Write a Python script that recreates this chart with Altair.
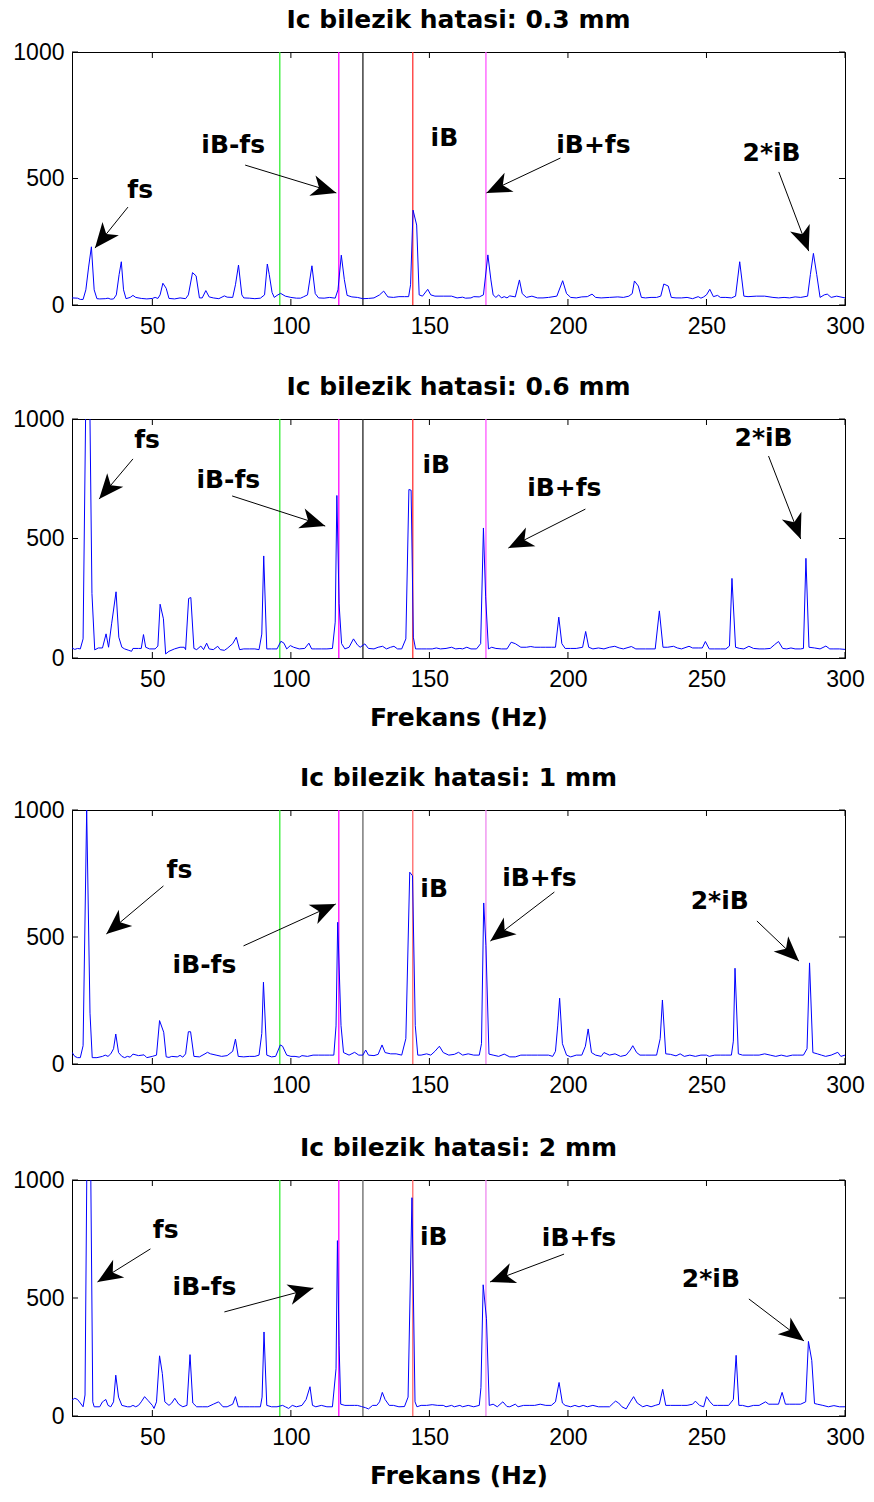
import math
import altair as alt
import pandas as pd

# ---------------- data ----------------
panel_titles = ["Ic bilezik hatasi: 0.3 mm", "Ic bilezik hatasi: 0.6 mm",
                "Ic bilezik hatasi: 1 mm", "Ic bilezik hatasi: 2 mm"]

f_03 = [21,23,24,25,26,27,28,29,30,31,33,34,35,36,37,38,38.8,39.6,40.5,42,43,44,46,48,50,51,52,52.8,53.8,55,56,58,60,62,63,64.5,65.8,67,68,69.3,70.5,72,74,76,77,79,80,81.1,82.3,83,85,87,89,90.5,91.5,92.2,93.2,94,95,96.3,98,100,102,103.5,104.5,106,107.6,108.8,110,112,114,116,117,118.2,119.3,120.3,122,124,126,128,130,132,133.5,135,137,139,141,142.5,143.2,144.1,145.4,146.3,147.5,149.4,150.5,152,155,158,160,162,163,165,166,168,169.5,171.1,172.2,173,174,175,176,177,178,179,181,182.5,183.5,185,187,189,191,193,196,198.1,199.5,201,203,205,207,208.7,210,212,215,218,220,222,223.2,224,225.4,226.5,228,230,232,233.5,234.6,236.2,237.3,239,241,243,245,247,248,249,250,251.2,252.5,254,255,257,259,260.5,262,263.5,265,268,271,274,276,278,280,282,284,286.5,287.5,288.6,289.8,291,292.5,293.6,295,297,300]
a_03 = [28,27,22,22,60,150,230,60,25,24,25,27,23,24,40,120,171,60,25,30,38,30,26,24,26,30,26,40,86,66,26,24,28,25,40,128,115,28,28,57,32,28,25,36,31,30,80,158,40,28,27,25,27,40,162,120,50,30,38,46,35,30,27,27,32,40,155,45,28,27,30,27,60,197,100,38,32,30,25,26,28,40,55,32,30,33,33,33,80,375,316,40,35,62,40,35,35,35,28,31,27,28,33,32,40,198,99,40,30,40,28,33,28,36,32,99,45,30,35,28,28,30,35,96,45,30,28,32,33,43,30,28,30,32,30,35,45,95,75,30,28,30,30,35,83,75,30,28,28,30,25,33,27,32,40,62,33,38,30,30,28,35,171,35,33,35,35,30,28,30,28,32,30,35,120,204,120,30,40,43,30,35,28]

f_06 = [21,22,23,24,25,26.2,27.2,28.2,29.2,30.5,32,33.3,34.2,35.3,36.9,37.9,39,40,41.5,42.5,43,45,46,46.8,47.6,49,51,52,52.8,54,54.8,56,58,60,61.5,62,63.1,63.9,65,66,67.5,68.5,69.6,70.5,72,73.6,74.5,76,77,79,80.3,81.5,83,85,87,88.5,89.5,90.2,91.3,93,95,96.4,97.5,98.5,99.8,101,103,105,106.5,107.5,109,111,113,115,116,116.6,117.4,118.3,119.5,121,122.6,124,125,126.7,128,130,131.5,133.1,134.5,136,137.2,138.5,140,141.5,142.6,143.4,144.2,145,147,149,151,152.5,154,156,158,159.5,161,162,163.5,165,167,168.5,169.5,170.3,171.3,172.5,174,176,178,179.5,181,183,185,186.6,188,190,192,194,195.5,196.7,197.8,199,201,203,205.3,206.4,207.5,209,211,213,215,216.9,218.5,220,222.9,224.5,226,228,230,231.5,233,234.3,236,238.1,239.5,241,243.7,245,247,248.5,249.6,251,253,255,257,258.3,259.2,260.5,262,263.5,265.3,267,269,271,273,274.5,276,277.5,279,280.5,282,284,285,285.9,287,289,291,293.1,294.5,296,298,300]
a_06 = [42,36,40,38,80,1300,1300,270,34,42,42,101,45,143,277,87,45,38,32,28,40,40,40,98,45,38,38,50,225,164,17,28,38,45,45,35,249,253,40,35,50,35,62,38,35,49,35,32,40,60,87,35,38,38,38,35,100,427,38,38,38,70,62,38,52,45,38,40,62,38,38,38,38,40,150,680,227,60,38,45,80,55,45,59,40,38,45,49,38,45,49,38,38,80,705,702,87,38,38,38,38,42,38,40,45,38,40,38,45,38,38,60,544,256,38,45,40,38,38,66,60,45,45,48,45,45,45,45,45,171,60,40,40,40,45,111,45,38,42,38,45,49,42,38,48,38,38,38,38,38,197,45,45,49,42,38,49,42,42,42,69,38,38,38,38,50,333,45,40,38,49,40,38,38,40,55,69,40,38,42,38,38,40,417,45,42,38,50,38,38,38,36]

f_1 = [21,22,23,24,25,26.3,27.5,28.3,30,32,33,34,35,36,36.8,37.8,39,40,41,42,43,45,47,48,50,51.5,52.6,54.1,55,56,57,59,60,61,62,63,63.8,65,67,69,69.9,71,73,75,77,79,80,81,83,85,87,88.5,89.5,90.1,91.3,93,94.5,96.2,97,98.5,100,101.5,103,104,106,108,110,112,114,115.5,116.3,116.9,118.1,119,121,123,124.5,126,127,128,130,131.5,132.9,134,136,138,140,141.5,142.9,143.9,144.9,145.8,147,149,150.5,152,153.6,155,157,159,160.5,162,164,166,168,168.8,169.6,170.4,171.5,173,175,177,179,181,183,185,187,189,191,193,194.5,195.5,196.3,197,198,199.5,201,203,205,206.3,207.3,208.5,210,212,213,215,217,219,221,222.5,223.4,224.8,226,228,230,232,233.3,234.1,235.3,237,239,240.5,242,244,246,248,250,251,253,255,257,259,259.7,260.3,261.5,263,265,267,269,271,273,275,277,279,281,283,285,286.3,287.2,288.4,290,291.5,293,295,297.4,298.5,300]
a_1 = [46,30,25,25,72,1000,200,25,25,30,35,30,40,60,118,45,30,25,30,27,39,33,36,25,30,35,171,125,28,26,30,28,34,27,40,127,127,30,28,40,46,40,35,30,33,50,98,30,28,30,30,35,120,322,35,28,30,75,70,35,30,30,27,33,30,35,35,35,35,35,150,558,151,45,35,46,35,35,55,35,33,38,75,45,40,40,35,100,755,741,151,35,35,40,35,50,70,45,35,38,46,35,40,35,35,80,634,466,39,35,30,39,28,28,35,35,35,35,35,35,30,50,150,259,80,35,28,35,35,70,138,45,35,30,45,35,40,30,35,55,72,45,35,35,35,35,100,252,40,38,32,40,30,35,30,35,35,30,35,35,35,35,90,377,40,35,35,35,35,40,35,30,35,30,35,35,35,60,398,45,40,35,30,35,46,30,35]

f_2 = [21,22,23,24,25,25.7,26.6,27.5,28.5,29,31,32,32.4,33.2,34,35,36,36.8,37.8,39,41,42,43,44,45,46,47.2,48.5,50,50.6,51.5,52.6,53.6,54.5,56,57,58.1,59.5,61,62.5,63.6,64.6,66,68,70,72,73.9,75.5,77,79,80,81,83,85,87,89,89.6,90.3,91.3,93,95,97,98,99.2,100.5,102,104,105.5,106.9,107.8,109,111,113,115,116.3,116.8,117.4,118,119.5,121,123,124,125.5,127,128,129.5,131,132,133,134,135.5,137,139,141,142.3,143.7,144.8,145.5,147,149,151,153,155,156,158,159,161,162,164,166,168,168.6,169.4,170.6,171.6,173,174.5,176.5,178,179,181,182,184,186,188,190,192,194,195.5,196.8,198,199,201,202.5,204,205.5,207,209,211,213,215,216.4,217.2,218.3,219.5,221,222.5,223.7,225,227,228.5,230,231.5,233,234.2,235.3,237,239,241,243,245,246,247.5,249,250,251.3,252.5,254,256,258,259.7,260.7,261.7,263,265,267,269,271.3,272.5,274,276,277.3,278.5,280,282,284,285.8,286.8,288,289,290,292,294,296,298,300]
a_2 = [68,75,70,55,39,89,1400,1400,60,39,39,60,63,70,45,39,60,173,80,45,39,39,45,39,45,60,82,65,45,32,60,255,180,60,45,55,75,50,39,45,260,55,39,39,39,50,60,39,39,50,82,39,39,39,39,39,80,356,45,39,39,45,39,32,45,39,45,70,124,45,39,45,39,39,200,743,300,50,45,45,45,45,40,35,30,45,45,60,100,70,45,45,39,40,80,925,60,39,45,45,48,45,45,39,45,39,45,39,45,39,45,120,556,412,45,50,39,60,40,39,50,39,45,45,45,50,45,45,60,142,55,45,39,45,39,45,39,45,39,39,39,55,63,55,39,30,60,82,55,39,45,39,45,50,113,45,45,45,45,45,50,63,45,39,82,60,45,45,45,45,70,257,45,45,39,45,45,60,50,50,50,100,50,50,50,50,60,316,236,53,50,45,39,44,39,39]

freq_lists = [f_03, f_06, f_1, f_2]
amp_lists = [a_03, a_06, a_1, a_2]

x_ticks = [50, 100, 150, 200, 250, 300]
y_ticks = [0, 500, 1000]
x_domain = [21, 300]
y_domain = [0, 1000]

marker_freqs = [96, 117.3, 126, 144, 170.4]
marker_colors = [
    ["#33ee33", "#ff00ff", "#222222", "#ff3333", "#ff55ff"],
    ["#33ee33", "#ff00ff", "#222222", "#ff3333", "#ff55ff"],
    ["#33ee33", "#ff00ff", "#666666", "#ff6666", "#ee88ee"],
    ["#33ee33", "#ff00ff", "#666666", "#ff6666", "#ee88ee"],
]

ann_labels = ["fs", "iB-fs", "iB", "iB+fs", "2*iB"]
ann_tx = [[45.6, 79.2, 155.4, 209.2, 273.5],
          [48.1, 77.4, 152.5, 198.7, 270.6],
          [59.8, 68.8, 151.7, 189.7, 254.8],
          [54.8, 68.8, 151.6, 204.0, 251.6]]
ann_ty = [[455, 632, 660, 632, 600],
          [912, 745, 808, 711, 920],
          [764, 390, 689, 732, 642],
          [788, 547, 758, 754, 580]]
# arrows: tail (x, y) -> head (x, y); None for the label without arrow
arrow_tail_x = [[41.2, 83.5, None, 197.3, 276.1],
                [43.0, 78.8, None, 206.3, 272.4],
                [54.0, 82.9, None, 195.1, 268.2],
                [49.3, 76.0, None, 198.6, 265.3]]
arrow_tail_y = [[387, 553, None, 581, 526],
                [833, 678, None, 623, 845],
                [701, 465, None, 677, 563],
                [708, 441, None, 686, 496]]
arrow_head_x = [[29.3, 116.4, None, 170.6, 286.9],
                [30.8, 112.4, None, 178.5, 284.0],
                [33.4, 116.2, None, 172.0, 283.4],
                [30.2, 108.1, None, 171.9, 285.2]]
arrow_head_y = [[225, 443, None, 443, 213],
                [665, 552, None, 460, 498],
                [512, 630, None, 484, 405],
                [568, 542, None, 568, 318]]

# ---------------- layout / style ----------------
W = 773
heights = [253, 239, 254, 236]
show_xtitle = [False, True, False, True]
TITLE_FONT = "DejaVu Sans"
TICK_FONT = "Liberation Sans"
BIG = 25
ARROW_LEN = 25
ARROW_PATH = "M0,0 L-0.42,1 L0,0.72 L0.42,1 Z"


def panel(i):
    H = heights[i]
    xs = alt.Scale(domain=x_domain, nice=False, zero=False)
    ys = alt.Scale(domain=y_domain, nice=False)
    xaxis = alt.Axis(values=x_ticks, ticks=False, domain=True, domainColor="black",
                     domainWidth=1, grid=False, format="d",
                     labelFont=TICK_FONT, labelFontSize=23, labelColor="black",
                     labelPadding=10, labelFlush=False,
                     title="Frekans (Hz)" if show_xtitle[i] else None,
                     titleFont=TITLE_FONT, titleFontSize=BIG, titleFontWeight="bold",
                     titleColor="black", titlePadding=14)
    yaxis = alt.Axis(values=y_ticks, ticks=False, domain=True, domainColor="black",
                     domainWidth=1, grid=False, format="d",
                     labelFont=TICK_FONT, labelFontSize=23, labelColor="black",
                     labelPadding=8, labelFlush=False, title=None)

    spec = pd.DataFrame({"f": freq_lists[i], "a": amp_lists[i]})
    line = alt.Chart(spec).mark_line(color="#0000ff", strokeWidth=1, clip=True).encode(
        x=alt.X("f:Q", scale=xs, axis=xaxis),
        y=alt.Y("a:Q", scale=ys, axis=yaxis),
    )

    mk = pd.DataFrame({"f": marker_freqs, "c": marker_colors[i]})
    markers = alt.Chart(mk).mark_rule(strokeWidth=1.3).encode(
        x=alt.X("f:Q", scale=xs),
        color=alt.Color("c:N", scale=None),
    )

    # inward tick marks (MATLAB style)
    xt = pd.DataFrame({"t": x_ticks})
    yt = pd.DataFrame({"t": y_ticks})
    tk = 6
    xt_bot = alt.Chart(xt).mark_rule(color="black", strokeWidth=1).encode(
        x=alt.X("t:Q", scale=xs), y=alt.value(H - tk), y2=alt.value(H))
    xt_top = alt.Chart(xt).mark_rule(color="black", strokeWidth=1).encode(
        x=alt.X("t:Q", scale=xs), y=alt.value(0), y2=alt.value(tk))
    yt_l = alt.Chart(yt).mark_rule(color="black", strokeWidth=1).encode(
        y=alt.Y("t:Q", scale=ys), x=alt.value(0), x2=alt.value(tk))
    yt_r = alt.Chart(yt).mark_rule(color="black", strokeWidth=1).encode(
        y=alt.Y("t:Q", scale=ys), x=alt.value(W - tk), x2=alt.value(W))

    txt = pd.DataFrame({"x": ann_tx[i], "y": ann_ty[i], "t": ann_labels})
    texts = alt.Chart(txt).mark_text(font=TITLE_FONT, fontWeight="bold", fontSize=BIG,
                                     color="black", align="center", baseline="middle").encode(
        x=alt.X("x:Q", scale=xs), y=alt.Y("y:Q", scale=ys), text="t:N")

    rows = []
    px_per_x = W / (x_domain[1] - x_domain[0])
    px_per_y = H / (y_domain[1] - y_domain[0])
    for k in range(len(ann_labels)):
        if arrow_tail_x[i][k] is None:
            continue
        tx, ty = arrow_tail_x[i][k], arrow_tail_y[i][k]
        hx, hy = arrow_head_x[i][k], arrow_head_y[i][k]
        dx = (hx - tx) * px_per_x
        dy = -(hy - ty) * px_per_y
        ang = math.degrees(math.atan2(dx, -dy)) % 360
        rows.append({"tx": tx, "ty": ty, "hx": hx, "hy": hy, "ang": ang})
    ar = pd.DataFrame(rows)
    shafts = alt.Chart(ar).mark_rule(color="black", strokeWidth=1).encode(
        x=alt.X("tx:Q", scale=xs), y=alt.Y("ty:Q", scale=ys),
        x2="hx:Q", y2="hy:Q")
    heads = alt.Chart(ar).mark_point(shape=ARROW_PATH, filled=True, color="black",
                                     opacity=1, strokeWidth=0,
                                     size=4 * ARROW_LEN * ARROW_LEN).encode(
        x=alt.X("hx:Q", scale=xs), y=alt.Y("hy:Q", scale=ys),
        angle=alt.Angle("ang:Q", scale=None))

    return alt.layer(markers, line, xt_bot, xt_top, yt_l, yt_r, shafts, heads, texts).properties(
        width=W, height=H,
        view=alt.ViewBackground(stroke="black", strokeWidth=1, fill="white"),
        title=alt.TitleParams(panel_titles[i], font=TITLE_FONT, fontSize=BIG,
                              fontWeight="bold", color="black", anchor="middle",
                              frame="group", offset=8),
    )


top = alt.vconcat(panel(0), panel(1), spacing=35)
bottom = alt.vconcat(panel(2), panel(3), spacing=37)
chart = alt.vconcat(top, bottom, spacing=34).properties(
    padding={"left": 12, "top": 7, "right": 0, "bottom": 0}
).configure_view(stroke="black", strokeWidth=1).configure(background="white")

chart.save("out.html", embed_options={"renderer": "svg", "actions": False})
